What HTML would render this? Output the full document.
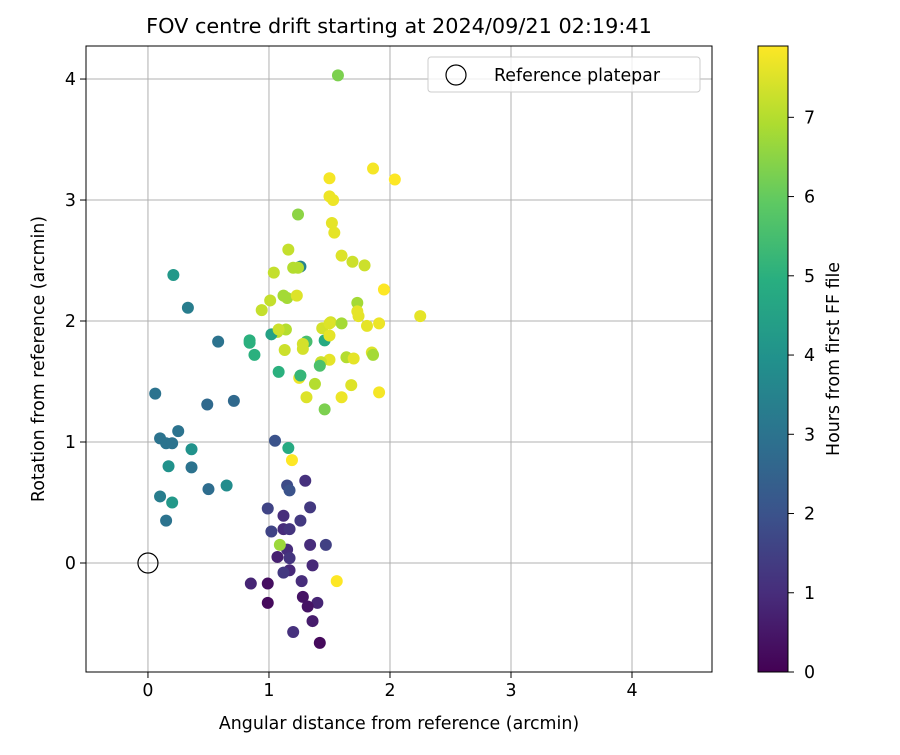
<!DOCTYPE html>
<html><head><meta charset="utf-8"><style>
body{margin:0;background:#fff;}
svg{font-family:"DejaVu Sans","Liberation Sans",sans-serif;}
</style></head><body>
<svg id="c" width="900" height="750" viewBox="0 0 900 750" xmlns="http://www.w3.org/2000/svg">
<defs>
<linearGradient id="vir" x1="0" y1="1" x2="0" y2="0">
<stop offset="0" stop-color="#440154"/><stop offset="0.125" stop-color="#472d7b"/><stop offset="0.25" stop-color="#3b528b"/><stop offset="0.375" stop-color="#2c728e"/><stop offset="0.5" stop-color="#21918c"/><stop offset="0.625" stop-color="#28ae80"/><stop offset="0.75" stop-color="#5ec962"/><stop offset="0.875" stop-color="#addc30"/><stop offset="1" stop-color="#fde725"/>
</linearGradient>
</defs>
<text x="399" y="33" text-anchor="middle" font-size="20.8">FOV centre drift starting at 2024/09/21 02:19:41</text>
<g id="grid"></g>
<g id="pts"></g>
<rect x="86" y="46" width="626" height="626" fill="none" stroke="#000" stroke-width="1"/>
<g id="ticks"></g>
<text x="399" y="729" text-anchor="middle" font-size="17.4">Angular distance from reference (arcmin)</text>
<text transform="translate(44,359) rotate(-90)" text-anchor="middle" font-size="17.4">Rotation from reference (arcmin)</text>
<g>
<rect x="428" y="57" width="272" height="35" rx="3" fill="#fff" fill-opacity="0.8" stroke="#ccc"/>
<circle cx="456" cy="75" r="10" fill="none" stroke="#000" stroke-width="1.2"/>
<text x="494" y="81" font-size="17.4">Reference platepar</text>
</g>
<rect x="758" y="46" width="30" height="626" fill="url(#vir)" stroke="#000" stroke-width="1"/>
<g id="cb"></g>
<text transform="translate(839,359) rotate(-90)" text-anchor="middle" font-size="17.4">Hours from first FF file</text>
</svg>
<script>
const xs=[1.57,1.86,2.04,1.50,1.50,1.53,1.24,1.52,1.54,1.16,1.60,1.69,1.79,1.26,1.04,1.20,1.24,1.95,1.73,1.73,1.01,1.12,1.15,1.23,0.94,2.25,1.51,1.60,1.74,1.81,1.91,1.44,1.14,1.07,1.02,1.08,0.84,0.84,0.88,1.31,1.28,1.46,1.50,1.50,1.13,1.28,1.85,1.86,1.64,1.70,1.50,1.43,1.42,1.08,1.25,1.26,1.68,1.38,1.60,1.91,1.31,1.46,0.58,0.33,0.21,0.71,0.49,0.06,0.10,0.15,0.20,0.25,0.36,0.17,0.36,0.10,0.20,0.15,0.50,0.65,1.05,1.16,1.19,1.30,1.15,1.17,0.99,1.12,1.34,1.26,1.12,1.17,1.02,1.15,1.09,1.07,1.17,1.17,1.12,1.36,1.34,1.47,1.27,0.85,0.99,1.56,1.28,0.99,1.40,1.32,1.36,1.20,1.42];
const ys=[4.03,3.26,3.17,3.18,3.03,3.00,2.88,2.81,2.73,2.59,2.54,2.49,2.46,2.45,2.40,2.44,2.44,2.26,2.15,2.08,2.17,2.21,2.19,2.21,2.09,2.04,1.99,1.98,2.04,1.96,1.98,1.94,1.93,1.91,1.89,1.93,1.84,1.82,1.72,1.83,1.81,1.84,1.88,1.98,1.76,1.77,1.74,1.72,1.70,1.69,1.68,1.66,1.63,1.58,1.53,1.55,1.47,1.48,1.37,1.41,1.37,1.27,1.83,2.11,2.38,1.34,1.31,1.40,1.03,0.99,0.99,1.09,0.94,0.80,0.79,0.55,0.50,0.35,0.61,0.64,1.01,0.95,0.85,0.68,0.64,0.60,0.45,0.39,0.46,0.35,0.28,0.28,0.26,0.11,0.15,0.05,0.04,-0.06,-0.08,-0.02,0.15,0.15,-0.15,-0.17,-0.17,-0.15,-0.28,-0.33,-0.33,-0.36,-0.48,-0.57,-0.66];
const hours=[6.3,7.8,7.9,7.8,7.7,7.7,6.5,7.6,7.6,7.2,7.5,7.3,7.3,3.5,7.2,7.0,7.0,7.9,6.8,7.6,7.2,6.8,6.8,7.5,7.2,7.6,7.4,6.8,7.6,7.6,7.7,7.4,7.0,7.1,4.5,7.3,5.0,5.0,5.0,5.5,7.4,4.8,7.6,7.5,7.3,7.4,7.5,6.8,7.0,7.6,7.6,7.3,5.6,5.0,7.7,5.2,7.5,7.0,7.7,7.8,7.5,6.3,3.0,3.3,4.2,2.7,2.7,3.0,3.0,3.0,3.0,3.0,4.0,4.0,3.0,3.3,4.2,3.0,2.8,3.8,2.0,4.8,7.9,1.1,1.8,2.0,1.6,1.0,1.3,1.3,1.0,1.2,1.6,1.0,6.7,0.7,1.2,0.9,1.3,0.9,1.0,1.5,1.0,0.8,0.3,7.9,0.4,0.2,0.8,0.4,0.6,1.1,0.2];
const xTicks=[0,1,2,3,4];
const yTicks=[0,1,2,3,4];
const cbTicks=[0,1,2,3,4,5,6,7];
const xMin=-0.512,xMax=4.661,yMin=-0.901,yMax=4.273,hMin=0,hMax=7.9;
const L=86,R=712,T=46,B=672;
const sx=v=>L+(v-xMin)/(xMax-xMin)*(R-L);
const sy=v=>B-(v-yMin)/(yMax-yMin)*(B-T);
const sc=v=>672-(v-hMin)/(hMax-hMin)*626;
const stops=[[68,1,84],[71,45,123],[59,82,139],[44,114,142],[33,145,140],[40,174,128],[94,201,98],[173,220,48],[253,231,37]];
function vir(t){t=Math.max(0,Math.min(1,t))*8;const i=Math.min(7,Math.floor(t)),f=t-i;const a=stops[i],b=stops[i+1];return 'rgb('+a.map((v,k)=>Math.round(v+(b[k]-v)*f)).join(',')+')';}
const NS='http://www.w3.org/2000/svg';
function mk(tag,at,parent){const e=document.createElementNS(NS,tag);for(const k in at)e.setAttribute(k,at[k]);parent.appendChild(e);return e;}
const grid=document.getElementById('grid'),ticks=document.getElementById('ticks'),pts=document.getElementById('pts'),cb=document.getElementById('cb');
xTicks.forEach(v=>{const x=sx(v);
const g=mk('line',{x1:x,x2:x,y1:T,y2:B,stroke:'#b0b0b0','stroke-width':1},grid);


const t=mk('line',{x1:x,x2:x,y1:B,y2:B+6,stroke:'#000'},ticks);


const l=mk('text',{x:x,y:B+24,'text-anchor':'middle','font-size':17.4},ticks);l.textContent=v;

});
yTicks.forEach(v=>{const y=sy(v);
const g=mk('line',{x1:L,x2:R,y1:y,y2:y,stroke:'#b0b0b0','stroke-width':1},grid);


const t=mk('line',{x1:L-6,x2:L,y1:y,y2:y,stroke:'#000'},ticks);


const l=mk('text',{x:L-10,y:y+6,'text-anchor':'end','font-size':17.4},ticks);l.textContent=v;

});
xs.forEach((x,i)=>{const c=mk('circle',{cx:sx(x),cy:sy(ys[i]),r:6,fill:vir((hours[i]-hMin)/(hMax-hMin))},pts);

});
const ref=mk('circle',{cx:sx(0),cy:sy(0),r:10,fill:'none',stroke:'#000','stroke-width':1.2},pts);


cbTicks.forEach(v=>{const y=sc(v);
const t=mk('line',{x1:788,x2:794,y1:y,y2:y,stroke:'#000'},cb);


const l=mk('text',{x:804,y:y+6,'font-size':17.4},cb);l.textContent=v;

});
</script>
</body></html>
